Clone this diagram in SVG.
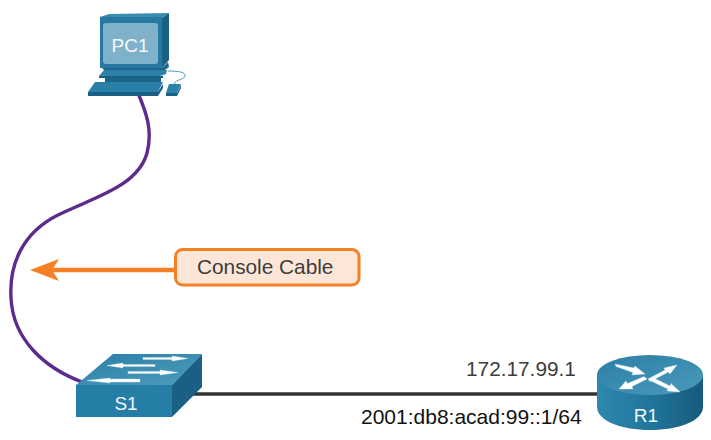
<svg xmlns="http://www.w3.org/2000/svg" width="711" height="440" viewBox="0 0 711 440">
<style>
text{font-family:"Liberation Sans",Arial,sans-serif}
.dev{fill:#f2f8fb;text-anchor:middle}
.lab{fill:#3c3c3c;font-size:20.800px}
.ar{fill:#fff;stroke:#cfe3ec;stroke-width:.4}
</style>
<defs>
<linearGradient id="top" x1="0" y1="0" x2="1" y2="1"><stop offset="0" stop-color="#2a7fa6"/><stop offset="1" stop-color="#4d9dbd"/></linearGradient>
<linearGradient id="cyl" x1="0" y1="0" x2="1" y2="0"><stop offset="0" stop-color="#2f88ad"/><stop offset=".55" stop-color="#1f7399"/><stop offset="1" stop-color="#175a7c"/></linearGradient>
<linearGradient id="rtop" x1="0" y1="0" x2="1" y2="1"><stop offset="0" stop-color="#2b7ea6"/><stop offset="1" stop-color="#4a9abb"/></linearGradient>
</defs>
<rect width="711" height="440" fill="#fff"/>
<g id="connectors" fill="none">
<path d="M138 93C146 112 153 130 147 153C138 186 95 197 58 215C22 233 9 265 11 298C13 340 45 368 82 382" stroke="#5d2a8e" stroke-width="3.400"/>
<path d="M190 394H600" stroke="#333" stroke-width="3.400"/>
<path d="M176 270H50" stroke="#f58025" stroke-width="4.500"/>
<path d="M30 270L59 259L52 270L59 281Z" fill="#f58025"/>
</g>
<g id="PC1">
<path d="M100 17L109 14L169 13L162 18Z" fill="#3a8cb0"/>
<path d="M162 18L169 13V60L162 68Z" fill="#1a5f84"/>
<rect x="100" y="17" width="62" height="51" fill="#2779a1"/>
<rect x="103" y="23" width="55" height="41" rx="3" fill="#7fb1cb"/>
<text class="dev" x="130" y="52" font-size="19">PC1</text>
<path d="M102 68H162L168 62L169 67L162 72H106Z" fill="#1c6488"/>
<path d="M104 70H167L166 74L160 76H99Z" fill="#2c82a8"/>
<path d="M99 76H163V78H99Z" fill="#1a5f84"/>
<path d="M105 78H161V82H105Z" fill="#1c6488"/>
<path d="M95 82H163L158 92H88Z" fill="#2a80a6"/>
<path d="M88 92H158L163 84V88L158 96H88Z" fill="#1a5f84"/>
<path d="M169 84H181L177 93H166Z" fill="#2c82a8"/>
<path d="M166 93H177L181 85V88L177 96H166Z" fill="#1a5f84"/>
<path d="M168 71C178 71 186 72 185 76C184 80 176 79 174 84" fill="none" stroke="#2a7fa6" stroke-width=".8"/>
</g>
<g id="console-label">
<rect x="175.500" y="249.500" width="183.500" height="35.500" rx="7" fill="#fde6d7" stroke="#f58025" stroke-width="3"/>
<text class="lab" x="197" y="274">Console Cable</text>
</g>
<g id="S1">
<path d="M76 385L113 354H202L172 385Z" fill="url(#top)"/>
<path d="M172 385L202 354V387L172 417Z" fill="#1a5f84"/>
<rect x="76" y="385" width="96" height="32" fill="#257ea5"/>
<path class="ar" d="M143 357.500H172V356L188 358.500L172 361V359.500H143Z"/>
<path class="ar" d="M107 365.500L123 363V364.500H155V366.500H123V368Z"/>
<path class="ar" d="M128 371.500H160V370L178 372.500L160 375V373.500H128Z"/>
<path class="ar" d="M87 380.500L110 378V379H140V382H110V383Z"/>
<text class="dev" x="126" y="410" font-size="19">S1</text>
</g>
<g id="R1">
<path d="M597 376V407C597 421 622 430 650 430C678 430 703 421 703 407V376Z" fill="url(#cyl)"/>
<ellipse cx="650" cy="375" rx="53" ry="20" fill="url(#rtop)"/>
<path class="ar" d="M615 364L634 368L635 366L645 374L632 375L633 372.500L616 366.500Z"/>
<path class="ar" d="M648 379L665 370L664 368L677 365L670 374L668.500 372L650 381.500Z"/>
<path class="ar" d="M647 379L632 386.500L633 389L619 389L626 381L627.500 383.500L644 376.500Z"/>
<path class="ar" d="M654 378L670 386L671 383.500L680 392L667 391L668 389L651 381Z"/>
<text class="dev" x="646" y="422" font-size="19">R1</text>
</g>
<g id="addresses">
<text class="lab" x="466" y="376">172.17.99.1</text>
<text x="361" y="424" font-size="21" fill="#111">2001:db8:acad:99::1/64</text>
</g>
</svg>
